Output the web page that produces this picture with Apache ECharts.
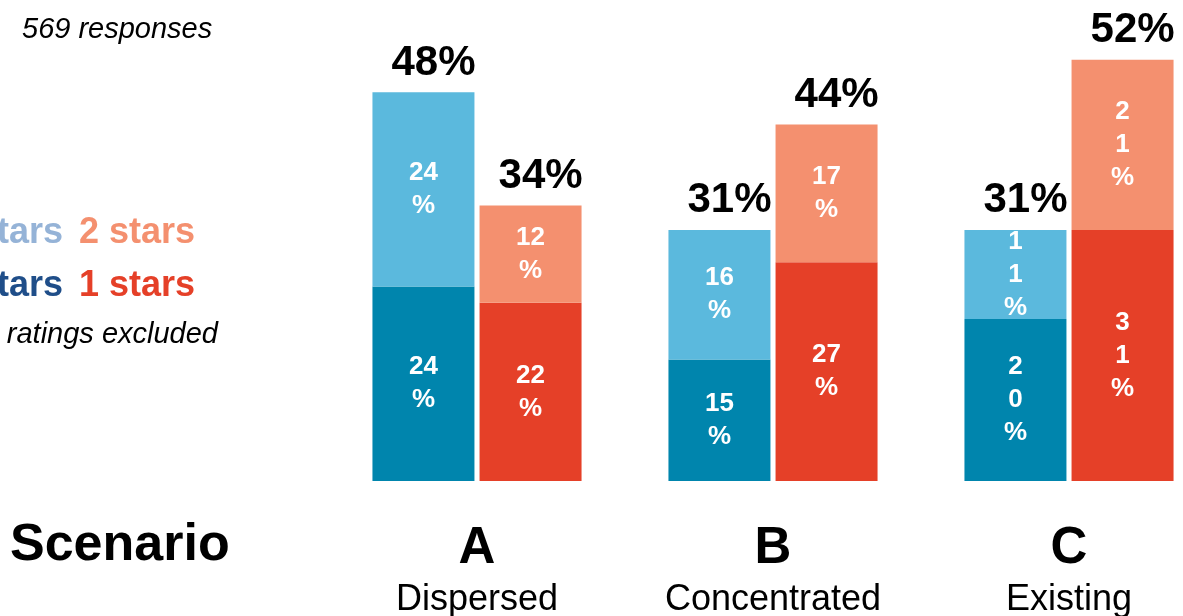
<!DOCTYPE html>
<html>
<head>
<meta charset="utf-8">
<script src="https://cdn.jsdelivr.net/npm/echarts@6/dist/echarts.min.js"></script>
<style>
html,body{margin:0;padding:0;background:#fff;}
#chart{width:1183px;height:616px;}
</style>
</head>
<body>
<div id="chart"></div>
<script>
// ---- data ----
var scenarios = ['A', 'B', 'C'];
var scenarioNames = ['Dispersed', 'Concentrated', 'Existing'];
// favourable (blue) stack
var stars5 = [24, 15, 20];   // dark blue, bottom
var stars4 = [24, 16, 11];   // light blue, top
// unfavourable (red) stack
var stars1 = [22, 27, 31];   // dark red, bottom
var stars2 = [12, 17, 21];   // light red, top
var totalsBlue = [48, 31, 31];
var totalsRed = [34, 44, 52];
var responses = 569;

var FONT = '"Liberation Sans", Arial, sans-serif';

function inner(p) {
  var s = p.value + '%';
  if (p.dataIndex === 2) return s.split('').join('\n');
  return p.value + '\n%';
}
var innerLabel = {
  show: true, position: 'inside', color: '#fff', fontFamily: FONT,
  fontWeight: 'bold', fontSize: 26, lineHeight: 33, formatter: inner
};
function totalLabel(arr) {
  return {
    show: true, position: 'top', distance: 8, offset: [10, 0],
    color: '#000', fontFamily: FONT, fontWeight: 'bold', fontSize: 42,
    formatter: function (p) { return arr[p.dataIndex] + '%'; }
  };
}
function zeros(n) { var a = []; for (var i = 0; i < n; i++) a.push(0); return a; }

var chart = echarts.init(document.getElementById('chart'));
chart.setOption({
  animation: false,
  backgroundColor: '#fff',
  grid: { left: 329, width: 888, top: -5, height: 486, outerBoundsMode: 'none', containLabel: false },
  xAxis: {
    type: 'category', data: scenarios,
    axisLine: { show: false }, axisTick: { show: false },
    axisLabel: {
      margin: 39, interval: 0,
      formatter: function (v, i) { return '{big|' + v + '}\n{small|' + scenarioNames[i] + '}'; },
      rich: {
        big: { fontFamily: FONT, fontWeight: 'bold', fontSize: 51, lineHeight: 58, color: '#000' },
        small: { fontFamily: FONT, fontSize: 36, lineHeight: 44, color: '#000' }
      }
    }
  },
  yAxis: { type: 'value', min: 0, max: 60, show: false, splitLine: { show: false } },
  series: [
    { name: '5 stars', type: 'bar', stack: 'blue', data: stars5, barWidth: 102, barGap: '5%',
      itemStyle: { color: '#0085AD' }, label: innerLabel },
    { name: '4 stars', type: 'bar', stack: 'blue', data: stars4, barWidth: 102, barGap: '5%',
      itemStyle: { color: '#5BB9DD' }, label: innerLabel },
    { name: 'blueTotal', type: 'bar', stack: 'blue', data: zeros(3), barWidth: 102, barGap: '5%',
      itemStyle: { color: 'rgba(0,0,0,0)' }, label: totalLabel(totalsBlue), silent: true },
    { name: '1 stars', type: 'bar', stack: 'red', data: stars1, barWidth: 102, barGap: '5%',
      itemStyle: { color: '#E54028' }, label: innerLabel },
    { name: '2 stars', type: 'bar', stack: 'red', data: stars2, barWidth: 102, barGap: '5%',
      itemStyle: { color: '#F4906F' }, label: innerLabel },
    { name: 'redTotal', type: 'bar', stack: 'red', data: zeros(3), barWidth: 102, barGap: '5%',
      itemStyle: { color: 'rgba(0,0,0,0)' }, label: totalLabel(totalsRed), silent: true }
  ],
  graphic: [
    { type: 'text', left: 22, top: 15, style: { text: responses + ' responses', font: 'italic 29px ' + FONT, fill: '#000' } },
    { type: 'text', x: 63, y: 233, style: { text: '4 stars', font: 'bold 36px ' + FONT, fill: '#95B3D7', textAlign: 'right', textVerticalAlign: 'middle' } },
    { type: 'text', x: 79, y: 233, style: { text: '2 stars', font: 'bold 36px ' + FONT, fill: '#F4906F', textAlign: 'left', textVerticalAlign: 'middle' } },
    { type: 'text', x: 63, y: 286, style: { text: '5 stars', font: 'bold 36px ' + FONT, fill: '#1F4E89', textAlign: 'right', textVerticalAlign: 'middle' } },
    { type: 'text', x: 79, y: 286, style: { text: '1 stars', font: 'bold 36px ' + FONT, fill: '#E54028', textAlign: 'left', textVerticalAlign: 'middle' } },
    { type: 'text', x: 218, y: 335, style: { text: '3 star ratings excluded', font: 'italic 29px ' + FONT, fill: '#000', textAlign: 'right', textVerticalAlign: 'middle' } },
    { type: 'text', x: 10, y: 546, style: { text: 'Scenario', font: 'bold 52px ' + FONT, fill: '#000', textAlign: 'left', textVerticalAlign: 'middle' } }
  ]
});
</script>
</body>
</html>
